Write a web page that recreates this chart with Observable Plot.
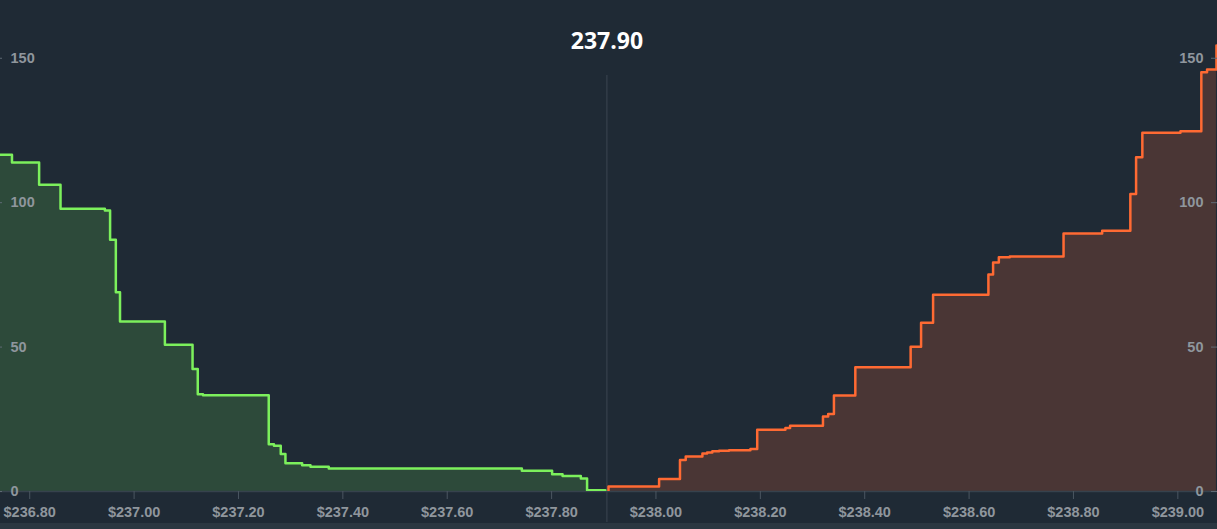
<!DOCTYPE html>
<html><head><meta charset="utf-8">
<script src="https://cdn.jsdelivr.net/npm/d3@7"></script>
<script src="https://cdn.jsdelivr.net/npm/@observablehq/plot@0.6"></script>
<style>
html,body{margin:0;padding:0;background:#1f2a35;overflow:hidden}
#strip{height:6px;background:#2b3741}
svg{display:block}
</style></head><body>
<div id="chart"></div><div id="strip"></div>
<script>
// Bids (ascending price, cumulative depth of bids at or above price)
const bidPrices = [236.730, 236.766, 236.818, 236.859, 236.944, 236.954, 236.965, 236.973, 237.059, 237.112, 237.122, 237.132, 237.258, 237.268, 237.281, 237.290, 237.322, 237.338, 237.373, 237.743, 237.801, 237.821, 237.856, 237.868, 237.903];
const bidDepth  = [118.5, 116.6, 113.9, 106.2, 97.9, 97.3, 87.2, 69.0, 58.9, 50.8, 42.4, 33.7, 33.3, 16.4, 15.8, 13.0, 9.8, 9.1, 8.6, 8.0, 7.2, 6.0, 5.4, 4.5, 0.4];
// Asks (ascending price, cumulative depth of asks at or below price)
const askPrices = [237.909, 237.909, 238.006, 238.046, 238.057, 238.089, 238.098, 238.108, 238.121, 238.140, 238.181, 238.194, 238.248, 238.257, 238.320, 238.330, 238.341, 238.382, 238.488, 238.508, 238.531, 238.637, 238.646, 238.657, 238.678, 238.781, 238.855, 238.909, 238.920, 238.932, 239.005, 239.045, 239.056, 239.074];
const askDepth  = [0, 1.7, 4.3, 10.9, 12.1, 13.2, 13.5, 13.9, 14.1, 14.3, 14.7, 21.4, 22.0, 22.8, 26.0, 26.8, 33.2, 43.0, 50.1, 58.4, 68.1, 75.1, 79.3, 81.1, 81.4, 89.3, 90.3, 103.0, 115.7, 124.2, 124.7, 145.2, 146.1, 154.4];
const xTicks = [236.8, 237.0, 237.2, 237.4, 237.6, 237.8, 238.0, 238.2, 238.4, 238.6, 238.8, 239.0];
const yTicks = [0, 50, 100, 150];
const midPrice = 237.906;
const midLabel = "237.90";
const xDomain = [236.744, 239.076];
const yDomain = [0, 170];

const bids = bidPrices.map((p, i) => ({price: p, depth: bidDepth[i]}));
const asks = askPrices.map((p, i) => ({price: p, depth: askDepth[i]}));

const W = 1217, H = 523;
const labelColor = "#8f969d";

const chart = Plot.plot({
  width: W, height: H,
  marginTop: 0, marginBottom: 32, marginLeft: 0, marginRight: 0,
  style: {background: "#1f2a35", color: labelColor, fontFamily: "'Liberation Sans', Arial, sans-serif", fontSize: "14.5px", fontWeight: "bold"},
  x: {domain: xDomain},
  y: {domain: yDomain, axis: null},
  marks: [
    Plot.ruleX([midPrice], {stroke: "#3b4651", strokeWidth: 1, insetTop: 75, insetBottom: -31}),
    Plot.areaY(bids, {x: "price", y: "depth", curve: "step-before", fill: "#2d4a3a", clip: true}),
    Plot.areaY(asks, {x: "price", y: "depth", curve: "step-after", fill: "#4a3635", clip: true}),
    Plot.ruleY([0], {stroke: "#36424d", strokeWidth: 1.5}),
    Plot.lineY(bids, {x: "price", y: "depth", curve: "step-before", stroke: "#7cf05c", strokeWidth: 2.5, clip: true}),
    Plot.lineY(asks, {x: "price", y: "depth", curve: "step-after", stroke: "#ff6a33", strokeWidth: 2.5, clip: true}),
    Plot.axisX({ticks: xTicks, tickFormat: d => "$" + d.toFixed(2), tickSize: 8, tickPadding: 7, stroke: "#4b5661", fill: labelColor, label: null}),
    Plot.ruleY(yTicks, {stroke: "#5f6a74", insetRight: W - 2}),
    Plot.ruleY(yTicks, {stroke: "#5f6a74", insetLeft: W - 6}),
    Plot.text(yTicks, {y: d => d, text: d => String(d), frameAnchor: "left", dx: 10, textAnchor: "start", fill: labelColor}),
    Plot.text(yTicks, {y: d => d, text: d => String(d), frameAnchor: "right", dx: -14, textAnchor: "end", fill: labelColor}),
    Plot.text([{price: midPrice, label: midLabel}], {x: "price", text: "label", frameAnchor: "top", dy: 41, lineAnchor: "middle", fill: "#ffffff", fontFamily: "'Open Sans', sans-serif", fontSize: 23, fontWeight: "bold"})
  ]
});
document.getElementById("chart").appendChild(chart);
</script>
</body></html>
